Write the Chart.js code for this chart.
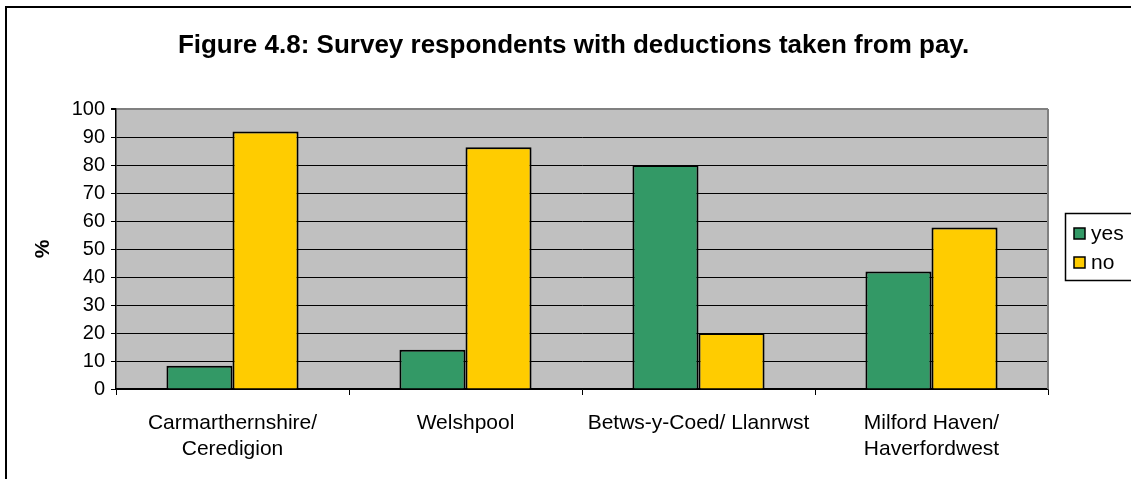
<!DOCTYPE html>
<html><head><meta charset="utf-8">
<script src="https://cdn.jsdelivr.net/npm/chart.js@4/dist/chart.umd.min.js"></script>
<style>html,body{margin:0;padding:0;background:#fff;overflow:hidden}#wrap{position:relative;width:1131px;height:479px}</style>
</head><body><div id="wrap"><canvas id="c" width="1131" height="479" style="width:1131px;height:479px"></canvas></div>
<script>
const titleText = "Figure 4.8: Survey respondents with deductions taken from pay.";
const categories = [["Carmarthernshire/", "Ceredigion"], ["Welshpool"], ["Betws-y-Coed/ Llanrwst"], ["Milford Haven/", "Haverfordwest"]];
const seriesNames = ["yes", "no"];
const yesValues = [8.3, 14, 80, 42];
const noValues = [92, 86.3, 20, 57.7];
const yAxisTitle = "%";
const yMin = 0, yMax = 100, yStep = 10;

const FONT = "'Liberation Sans', Arial, sans-serif";
const seriesColors = ["#339966", "#FFCC00"];

const decor = {
  id: 'decor',
  beforeDraw(chart) {
    const {ctx, chartArea: a} = chart;
    ctx.save();
    ctx.fillStyle = '#fff';
    ctx.fillRect(0, 0, chart.width, chart.height);
    ctx.fillStyle = '#C0C0C0';
    ctx.fillRect(a.left, a.top, a.right - a.left, a.bottom - a.top);
    ctx.restore();
  },
  beforeDatasetsDraw(chart) {
    const {ctx, chartArea: a} = chart;
    ctx.save();
    ctx.strokeStyle = '#808080';
    ctx.lineWidth = 2;
    ctx.beginPath();
    ctx.moveTo(a.right, a.top);
    ctx.lineTo(a.right, a.bottom);
    ctx.stroke();
    ctx.restore();
  },
  afterDraw(chart) {
    const {ctx} = chart;
    ctx.save();
    ctx.strokeStyle = '#000';
    ctx.lineWidth = 2;
    ctx.beginPath();
    ctx.moveTo(6, 500);
    ctx.lineTo(6, 7);
    ctx.lineTo(1140, 7);
    ctx.stroke();
    ctx.fillStyle = '#000';
    ctx.font = "bold 26px " + FONT;
    ctx.textAlign = 'center';
    ctx.textBaseline = 'alphabetic';
    ctx.fillText(titleText, 573.5, 53);
    ctx.lineWidth = 1.5;
    ctx.strokeStyle = '#000';
    ctx.strokeRect(1065.5, 213.5, 90, 67);
    ctx.font = "21px " + FONT;
    ctx.textAlign = 'left';
    ctx.textBaseline = 'middle';
    const ys = [233, 262];
    chart.data.datasets.forEach((ds, i) => {
      ctx.fillStyle = ds.backgroundColor;
      ctx.fillRect(1074, ys[i] - 5, 11, 11);
      ctx.strokeRect(1074, ys[i] - 5, 11, 11);
      ctx.fillStyle = '#000';
      ctx.fillText(ds.label, 1091, ys[i] + 1);
    });
    ctx.restore();
  }
};

new Chart(document.getElementById('c'), {
  type: 'bar',
  data: {
    labels: categories,
    datasets: [
      {label: seriesNames[0], data: yesValues, backgroundColor: seriesColors[0], borderColor: '#000', borderWidth: 2},
      {label: seriesNames[1], data: noValues, backgroundColor: seriesColors[1], borderColor: '#000', borderWidth: 2}
    ]
  },
  options: {
    responsive: false,
    animation: false,
    devicePixelRatio: 1,
    layout: {padding: {top: 109, right: 83, bottom: 0, left: 0}},
    categoryPercentage: 0.567,
    barPercentage: 1,
    plugins: {legend: {display: false}, title: {display: false}, tooltip: {enabled: false}},
    scales: {
      x: {
        grid: {display: true, drawOnChartArea: false, drawTicks: true, tickLength: 6, color: '#000', offset: true},
        border: {display: true, color: '#000', width: 1.5},
        ticks: {color: '#000', font: {family: FONT, size: 21}, padding: 16, maxRotation: 0, autoSkip: false},
        afterFit(s) { s.height = 90; }
      },
      y: {
        min: yMin, max: yMax,
        grid: {
          color: (c) => (c.tick && c.tick.value === yMax) ? '#808080' : '#000',
          lineWidth: (c) => (c.tick && c.tick.value === yMax) ? 2 : 1,
          tickColor: '#000', tickLength: 5, drawTicks: true
        },
        border: {display: true, color: '#000', width: 1.5},
        ticks: {stepSize: yStep, color: '#000', font: {family: FONT, size: 20}, padding: 6},
        title: {display: true, text: yAxisTitle, color: '#000', font: {family: FONT, size: 21, weight: 'bold'}, padding: {top: 31, bottom: 0}},
        afterFit(s) { s.width = 116; }
      }
    }
  },
  plugins: [decor]
});
</script></body></html>
